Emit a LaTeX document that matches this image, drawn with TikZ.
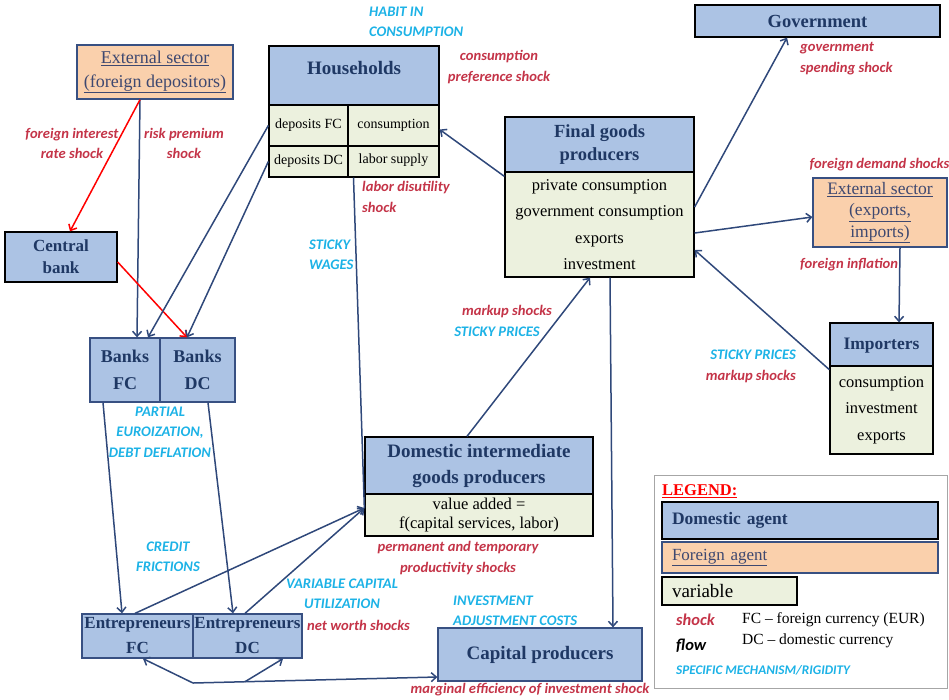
\documentclass[tikz,border=0pt]{standalone}
\usepackage{fontspec}
\setmainfont{Liberation Serif}
\newfontfamily\labelfont{Carlito}
\usetikzlibrary{arrows.meta}

\definecolor{AgentBlue}{RGB}{172,195,228}
\definecolor{AgentText}{RGB}{31,56,100}
\definecolor{ForeignOrange}{RGB}{250,208,172}
\definecolor{ForeignText}{RGB}{62,72,112}
\definecolor{VariableGreen}{RGB}{236,241,222}
\definecolor{FlowBlue}{RGB}{47,72,122}
\definecolor{BorderBlue}{RGB}{56,80,130}
\definecolor{ShockRed}{RGB}{196,52,72}
\definecolor{MechCyan}{RGB}{28,178,230}

\newcommand{\fsz}[2]{\fontsize{#1}{#2}\selectfont}

\tikzset{
  agentbox/.style={draw=black, line width=1.3pt, fill=AgentBlue, text=AgentText,
    font=\bfseries\fsz{18}{23}, align=center, inner sep=1pt},
  agentbbox/.style={agentbox, draw=BorderBlue},
  foreignbox/.style={draw=BorderBlue, line width=1.3pt, fill=ForeignOrange,
    text=ForeignText, font=\fsz{18}{24}, align=center, inner sep=0pt},
  varbox/.style={draw=black, line width=1.3pt, fill=VariableGreen,
    font=\fsz{16.5}{26.5}, align=center, inner sep=1pt},
  cellbox/.style={varbox, font=\fsz{14}{16}},
  shocklabel/.style={text=ShockRed, font=\labelfont\bfseries\itshape\fsz{14.6}{20.5},
    align=center, inner sep=0pt},
  mechlabel/.style={shocklabel, text=MechCyan},
  flowline/.style={draw=FlowBlue, line width=1.5pt, ->},
  hitline/.style={draw=red, line width=1.5pt, ->}
}

\begin{document}
\begin{tikzpicture}[x=1pt, y=-1pt, >={Straight Barb[length=5pt,width=9pt]}]

    \useasboundingbox (0,0) rectangle (949,699);

    % agents
    \node[foreignbox, minimum width=156pt, minimum height=54pt] (extF) at (155,72)
        {\underline{External sector}\\\underline{(foreign depositors)}};
    \node[agentbox, minimum width=112pt, minimum height=50pt, font=\bfseries\fsz{17}{22}] (cb) at (61,257) {Central\\bank};

    \node[agentbox, minimum width=170pt, minimum height=59pt, text depth=16pt, font=\bfseries\fsz{19}{23}] (hh) at (354,75.5) {Households};
    \node[cellbox, minimum width=79pt, minimum height=41pt] (depFC) at (308.5,125.5) {deposits FC};
    \node[cellbox, minimum width=91pt, minimum height=41pt] (cons) at (393.5,125.5) {consumption};
    \node[cellbox, minimum width=79pt, minimum height=31pt] (depDC) at (308.5,161.5) {deposits DC};
    \node[cellbox, minimum width=91pt, minimum height=31pt, text depth=6pt] (labor) at (393.5,161.5) {labor supply};

    \node[agentbox, minimum width=189pt, minimum height=55pt, font=\bfseries\fsz{18.5}{23}] (fg) at (599.5,144.5) {Final goods\\producers};
    \node[varbox, minimum width=189pt, minimum height=105pt] (fgb) at (599.5,224.5)
        {private consumption\\government consumption\\exports\\investment};

    \node[agentbox, minimum width=245pt, minimum height=32pt, font=\bfseries\fsz{18.5}{22}] (gov) at (817.5,21) {Government};
    \node[foreignbox, minimum width=134pt, minimum height=69pt, font=\fsz{17.5}{21.5}] (extE) at (880,212.5)
        {\underline{External sector}\\\underline{(exports,}\\\underline{imports)}};

    \node[agentbox, minimum width=103pt, minimum height=46pt, font=\bfseries\fsz{17.5}{22}] (imp) at (881.5,346) {Importers};
    \node[varbox, minimum width=103pt, minimum height=88pt, font=\fsz{16.5}{26.5}] (impb) at (881.5,410)
        {consumption\\investment\\exports};

    \node[agentbbox, minimum width=70pt, minimum height=64pt, font=\bfseries\fsz{18}{27}] (bFC) at (125,370) {Banks\\FC};
    \node[agentbbox, minimum width=75pt, minimum height=64pt, font=\bfseries\fsz{18}{27}] (bDC) at (197.5,370) {Banks\\DC};

    \node[agentbox, minimum width=228pt, minimum height=57pt, font=\bfseries\fsz{19}{26}] (dig) at (479,465.5)
        {Domestic intermediate\\goods producers};
    \node[varbox, minimum width=228pt, minimum height=42pt, font=\fsz{16.5}{19.5}] (digb) at (479,515)
        {value added =\\f(capital services, labor)};

    \node[agentbbox, minimum width=111pt, minimum height=44pt, inner sep=0.5pt, font=\bfseries\fsz{17}{25}] (eFC) at (137.5,636) {Entrepreneurs\\FC};
    \node[agentbbox, minimum width=109pt, minimum height=44pt, inner sep=0.5pt, font=\bfseries\fsz{17}{25}] (eDC) at (247.5,636) {Entrepreneurs\\DC};
    \node[agentbbox, minimum width=204pt, minimum height=53pt, font=\bfseries\fsz{19}{23}] (cp) at (540,654.5) {Capital producers};

    % flows
    \coordinate (dIn) at ([yshift=7pt]digb.west);
    \coordinate (J) at (193,683);
    \coordinate (K) at (245,681.7);

    \draw[flowline] ([xshift=-15pt]extF.south) -- ([xshift=12pt]bFC.north);
    \draw[hitline] ([xshift=-15pt]extF.south) -- ([xshift=9pt]cb.north);
    \draw[hitline] ([yshift=-5pt]cb.east) -- ([xshift=-10.5pt]bDC.north);
    \draw[flowline] (depFC.west) -- ([xshift=23pt]bFC.north);
    \draw[flowline] (depDC.west) -- ([xshift=-10.5pt]bDC.north);
    \draw[draw=FlowBlue, line width=1.5pt] ([xshift=-40pt]labor.south) -- (dIn);
    \draw[flowline] ([yshift=-5pt]fgb.north west) -- ([yshift=-4pt]cons.east);
    \draw[flowline] ([yshift=17.5pt]fgb.east) -- ([xshift=-30.5pt]gov.south);
    \draw[flowline] ([yshift=-8.5pt]fgb.east) -- ([yshift=-4.5pt]extE.west);
    \draw[flowline] ([xshift=20pt]extE.south) -- ([xshift=17.5pt]imp.north);
    \draw[flowline] (imp.south west) -- ([yshift=-25.5pt]fgb.east);
    \draw[flowline] ([xshift=-12pt]dig.north) -- ([xshift=-9.5pt]fgb.south);
    \draw[flowline] ([xshift=10.5pt]fgb.south) -- ([xshift=73pt]cp.north);
    \draw[flowline] ([xshift=-22pt]bFC.south) -- ([xshift=-15.5pt]eFC.north);
    \draw[flowline] ([xshift=10.5pt]bDC.south) -- ([xshift=-14.5pt]eDC.north);
    \draw[flowline] ([xshift=-2.5pt]eFC.north) -- (dIn);
    \draw[flowline] ([xshift=-2.5pt]eDC.north) -- (dIn);
    \draw[flowline] (J) -- ([yshift=-22.5pt]cp.west);
    \draw[flowline] (J) -- ([xshift=5.5pt]eFC.south);
    \draw[flowline] (K) -- ([xshift=35.5pt]eDC.south);

    % shocks and mechanisms
    \node[shocklabel] (lForInt) at (72,143.5) {foreign interest\\rate shock};
    \node[shocklabel] (lRisk) at (184,143.5) {risk premium\\shock};
    \node[mechlabel, anchor=west, align=left] (lHabit) at (369,22) {HABIT IN\\CONSUMPTION};
    \node[shocklabel] (lPref) at (499,67) {consumption\\preference shock};
    \node[shocklabel, anchor=west, align=left] (lLabor) at (362,197) {labor disutility\\shock};
    \node[shocklabel, anchor=west, align=left] (lGov) at (800,58.5) {government\\spending shock};
    \node[shocklabel] (lForDem) at (879.5,165) {foreign demand shocks};
    \node[shocklabel, anchor=west] (lForInf) at (800,265) {foreign inflation};
    \node[mechlabel, anchor=west, align=left] (lWages) at (309,255) {STICKY\\WAGES};
    \node[shocklabel] (lMarkupA) at (507,312) {markup shocks};
    \node[mechlabel] (lStickyA) at (497,332) {STICKY PRICES};
    \node[mechlabel, anchor=east] (lStickyB) at (796,355) {STICKY PRICES};
    \node[shocklabel, anchor=east] (lMarkupB) at (796,377) {markup shocks};
    \node[mechlabel] (lEuro) at (160,432) {PARTIAL\\EUROIZATION,\\DEBT DEFLATION};
    \node[mechlabel] (lCredit) at (168,557) {CREDIT\\FRICTIONS};
    \node[mechlabel] (lUtil) at (342,594) {VARIABLE CAPITAL\\UTILIZATION};
    \node[shocklabel, anchor=west] (lWorth) at (307,625) {net worth shocks};
    \node[shocklabel] (lProd) at (458,558) {permanent and temporary\\productivity shocks};
    \node[mechlabel, anchor=west, align=left] (lInvest) at (453,611) {INVESTMENT\\ADJUSTMENT COSTS};
    \node[shocklabel] (lMei) at (530,690) {marginal efficiency of investment shock};

    % legend
    \draw[draw=gray!70, line width=0.8pt] (654,475) rectangle (947,688);
    \node[anchor=west, inner sep=0pt, text=red, font=\bfseries\fsz{16.5}{20}] (legTitle) at (662,491) {\underline{LEGEND:}};
    \node[agentbox, minimum width=276pt, minimum height=37pt, text width=256pt, inner xsep=10pt, align=left,
        font=\bfseries\fsz{17.5}{20}] (legDom) at (800,520.5) {Domestic agent};
    \node[foreignbox, minimum width=276pt, minimum height=31pt, text width=256pt, inner xsep=10pt, align=left,
        font=\fsz{17}{20}] (legFor) at (800,557.5) {\underline{Foreign agent}};
    \node[varbox, minimum width=135pt, minimum height=28pt, text width=115pt, inner xsep=10pt, align=left,
        font=\fsz{19}{20}] (legVar) at (729.5,591) {variable};
    \node[shocklabel, anchor=west, font=\labelfont\bfseries\itshape\fsz{16.5}{20}] (legShock) at (676,620) {shock};
    \node[shocklabel, text=black, anchor=west, font=\labelfont\bfseries\itshape\fsz{16.5}{20}] (legFlow) at (676,646) {flow};
    \node[anchor=west, inner sep=0pt, font=\fsz{15.5}{18}] (legFC) at (742,620) {FC – foreign currency (EUR)};
    \node[anchor=west, inner sep=0pt, font=\fsz{15.5}{18}] (legDC) at (742,641) {DC – domestic currency};
    \node[mechlabel, anchor=west, font=\labelfont\bfseries\itshape\fsz{13.2}{15}] (legMech) at (676,670) {SPECIFIC MECHANISM/RIGIDITY};

\end{tikzpicture}
\end{document}
